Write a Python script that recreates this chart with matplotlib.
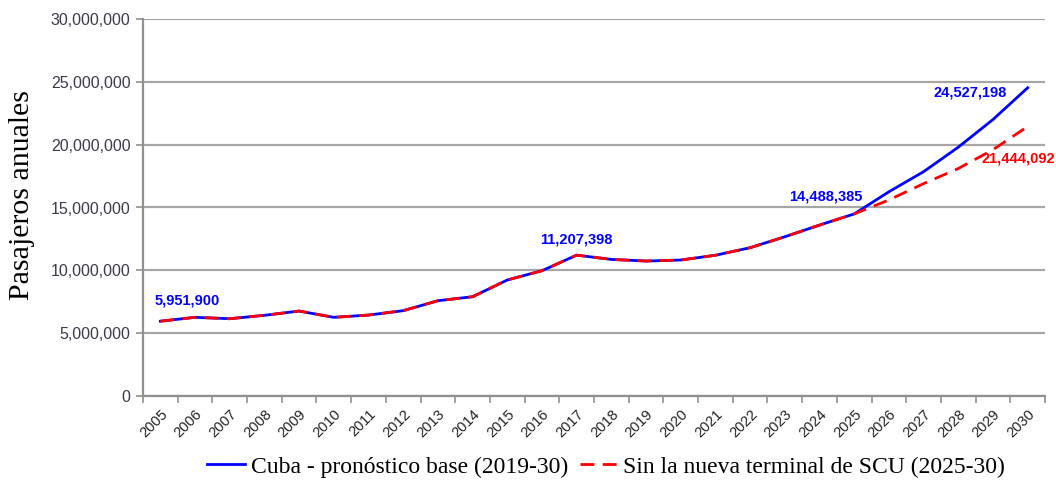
import matplotlib
matplotlib.use("Agg")
import matplotlib.pyplot as plt
from matplotlib.ticker import FuncFormatter, FixedLocator

years = [str(y) for y in range(2005, 2031)]
base = [5951900, 6260000, 6150000, 6420000, 6760000, 6260000, 6440000, 6790000,
        7580000, 7900000, 9230000, 9970000, 11207398, 10870000, 10740000, 10820000,
        11200000, 11800000, 12670000, 13600000, 14488385, 16250000, 17850000,
        19800000, 22000000, 24527198]
sin_scu = [5951900, 6260000, 6150000, 6420000, 6760000, 6260000, 6440000, 6790000,
           7580000, 7900000, 9230000, 9970000, 11207398, 10870000, 10740000, 10820000,
           11200000, 11800000, 12670000, 13600000, 14488385, 15600000, 16900000,
           18100000, 19600000, 21444092]
yticks = [0, 5000000, 10000000, 15000000, 20000000, 25000000, 30000000]
legend_labels = ["Cuba - pronóstico base (2019-30)", "Sin la nueva terminal de SCU (2025-30)"]

fig = plt.figure(figsize=(10.56, 4.88), dpi=100)
ax = fig.add_axes([143/1056, 92/488, 902/1056, 377/488])

x = list(range(len(years)))
blue = "#0000ff"
red = "#ff0000"
l1, = ax.plot(x, base, color=blue, lw=2.0, zorder=3)
l2, = ax.plot(x, sin_scu, color=red, lw=2.0, ls=(0, (5, 3)), zorder=4)

ax.set_xlim(-0.5, len(years) - 0.5)
ax.set_ylim(0, 30000000)
ax.set_yticks(yticks)
ax.yaxis.set_major_formatter(FuncFormatter(lambda v, p: f"{int(v):,}"))
ax.yaxis.grid(True, color="#a6a6a6", lw=1.6)
ax.set_axisbelow(True)

ax.set_xticks(x)
ax.set_xticklabels(years, rotation=45, ha="right", va="top", rotation_mode="anchor",
                   fontsize=10.5, family="Liberation Sans", color="#222222")
ax.xaxis.set_minor_locator(FixedLocator([i - 0.5 for i in range(len(years) + 1)]))
ax.tick_params(axis="x", which="major", length=0, pad=8)
ax.tick_params(axis="x", which="minor", length=5, color="#909090", width=1.2)
ax.tick_params(axis="y", length=5, color="#909090", width=1.2, labelsize=11.5,
               labelcolor="#3a3a4a", pad=4)
for t in ax.get_yticklabels():
    t.set_family("Liberation Sans")

for s in ["top", "right"]:
    ax.spines[s].set_visible(False)
for s in ["left", "bottom"]:
    ax.spines[s].set_color("#909090")
    ax.spines[s].set_linewidth(1.6)

ax.set_ylabel("Pasajeros anuales", family="Liberation Serif", fontsize=21.5)
ax.yaxis.set_label_coords(-0.12, 0.533)

def lab(i, series, txt, dx, dy, col):
    ax.annotate(txt, (i, series[i]), xytext=(dx, dy), textcoords="offset pixels",
                ha="center", va="center", fontsize=10.5, fontweight="bold",
                family="Liberation Sans", color=col, zorder=5)

lab(0, base, "5,951,900", 27, 21, blue)
lab(12, base, "11,207,398", 0, 16, blue)
lab(20, base, "14,488,385", -28, 17, blue)
lab(25, base, "24,527,198", -58, -5, blue)
lab(25, sin_scu, "21,444,092", -9, -32, red)

fig.legend([l1, l2], legend_labels, loc="center", bbox_to_anchor=(606/1056, 1 - 467/488),
           ncol=2, frameon=False, prop={"family": "Liberation Serif", "size": 17},
           handlelength=1.6, handletextpad=0.25, columnspacing=0.5)

fig.savefig("out.png", dpi=100)
